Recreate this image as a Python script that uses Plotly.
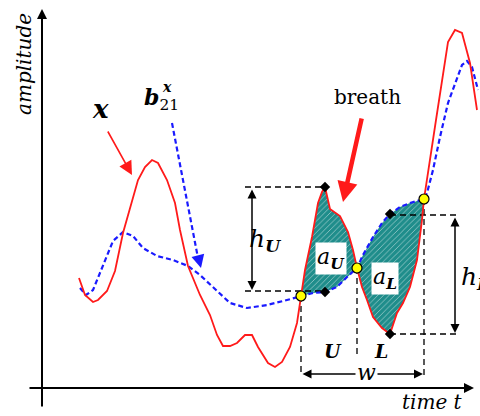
import plotly.graph_objects as go

# ---- data (pixel-like coordinates: x right, y down) ----
red_x = [79, 85, 93, 98, 107, 115, 123, 130, 138, 145, 152, 158, 167, 175, 180, 188, 200, 210, 217, 223,
         230, 237, 245, 252, 258, 268, 275, 282, 290, 297, 301, 305, 312, 318, 322, 325, 330, 340, 348, 353,
         357, 362, 367, 373, 382, 390, 397, 403, 410, 417, 422, 424, 436, 448, 455, 462, 470, 477]
red_y = [278, 295, 302, 300, 291, 271, 233, 207, 180, 167, 160, 163, 180, 203, 230, 266, 295, 315, 335, 346,
         346, 343, 335, 335, 347, 363, 367, 362, 347, 323, 296, 270, 237, 203, 192, 187, 209, 216, 232, 250,
         268, 287, 300, 317, 328, 334, 313, 303, 287, 260, 220, 199, 120, 42, 30, 33, 63, 110]

blue_x = [80, 86, 93, 103, 113, 123, 133, 143, 157, 173, 188, 200, 213, 230, 247, 267, 287, 301, 313, 325,
          337, 347, 357, 363, 373, 382, 390, 400, 410, 424, 427, 433, 440, 448, 455, 462, 467, 472, 478]
blue_y = [288, 295, 290, 265, 241, 232, 236, 248, 256, 260, 266, 275, 287, 303, 308, 305, 300, 296, 293, 292,
          287, 277, 268, 255, 237, 223, 214, 207, 203, 199, 193, 170, 137, 103, 83, 65, 61, 67, 90]

cross_x = [301, 357, 424]
cross_y = [296, 268, 199]
diamond_x = [325, 325, 390, 390]
diamond_y = [187, 292, 214, 334]
guide_left_x = 245
guide_right_x = 457
drop_bottom = [375, 358, 375]
w_level = 374

labels = {
    "amplitude": "<i>amplitude</i>",
    "time": "<i>time t</i>",
    "x": "<b><i>x</i></b>",
    "b": "<b><i>b</i></b><sub>21</sub>",
    "b_sup": "<b><i>x</i></b>",
    "breath": "breath",
    "hU": "<i>h</i><sub><b><i>U</i></b></sub>",
    "hL": "<i>h</i><sub><b><i>L</i></b></sub>",
    "aU": "<i>a</i><sub><b><i>U</i></b></sub>",
    "aL": "<i>a</i><sub><b><i>L</i></b></sub>",
    "U": "<b><i>U</i></b>",
    "L": "<b><i>L</i></b>",
    "w": "<i>w</i>",
}

FONT = "DejaVu Serif"
TEAL = "#1f8d8b"


def region(x0, x1):
    rx = [x for x in red_x if x0 <= x <= x1]
    ry = [y for x, y in zip(red_x, red_y) if x0 <= x <= x1]
    bx = [x for x in blue_x if x0 <= x <= x1][::-1]
    by = [y for x, y in zip(blue_x, blue_y) if x0 <= x <= x1][::-1]
    return rx + bx + [rx[0]], ry + by + [ry[0]]


fig = go.Figure()

for a, b in [(cross_x[0], cross_x[1]), (cross_x[1], cross_x[2])]:
    px, py = region(a, b)
    fig.add_trace(go.Scatter(x=px, y=py, mode="lines", fill="toself", line=dict(width=0),
                             fillcolor=TEAL,
                             fillpattern=dict(shape="/", fgcolor="white", size=4, solidity=0.22,
                                              fillmode="overlay"),
                             hoverinfo="skip"))

gx, gy = [], []
gx += [guide_left_x, diamond_x[0], None]; gy += [diamond_y[0], diamond_y[0], None]
gx += [guide_left_x, diamond_x[1], None]; gy += [diamond_y[1] - 1, diamond_y[1] - 1, None]
gx += [diamond_x[2], guide_right_x, None]; gy += [diamond_y[2] + 1, diamond_y[2] + 1, None]
gx += [diamond_x[3], guide_right_x, None]; gy += [diamond_y[3], diamond_y[3], None]
for cx, cy, bot in zip(cross_x, cross_y, drop_bottom):
    gx += [cx, cx, None]; gy += [cy, bot, None]
fig.add_trace(go.Scatter(x=gx, y=gy, mode="lines", line=dict(color="black", width=1.3, dash="6px,4px"),
                         hoverinfo="skip"))

fig.add_trace(go.Scatter(x=blue_x, y=blue_y, mode="lines",
                         line=dict(color="#1a1aff", width=2.2, dash="5px,3px"), hoverinfo="skip"))
fig.add_trace(go.Scatter(x=red_x, y=red_y, mode="lines",
                         line=dict(color="#ff1a1a", width=1.8), hoverinfo="skip"))

fig.add_trace(go.Scatter(x=[172, 198], y=[123, 258], mode="lines",
                         line=dict(color="#1a1aff", width=2.2, dash="5px,3px"), hoverinfo="skip"))

fig.add_trace(go.Scatter(x=diamond_x, y=diamond_y, mode="markers",
                         marker=dict(symbol="diamond", size=8, color="black"), hoverinfo="skip"))
fig.add_trace(go.Scatter(x=cross_x, y=cross_y, mode="markers",
                         marker=dict(symbol="circle", size=10, color="#ffff00",
                                     line=dict(color="black", width=1.2)), hoverinfo="skip"))

ann = []


def arrow(x, y, ax, ay, color="black", width=1.5, head=2, size=1.0, both=False):
    ann.append(dict(x=x, y=y, ax=ax, ay=ay, xref="x", yref="y", axref="x", ayref="y", text="",
                    showarrow=True, arrowhead=head, arrowsize=size, arrowwidth=width, arrowcolor=color,
                    startarrowhead=head, startarrowsize=size,
                    arrowside="end+start" if both else "end", standoff=0, startstandoff=0))


arrow(42, 9, 42, 408, width=2, head=2, size=1.0)
arrow(474, 388, 28, 388, width=2, head=2, size=1.0)
arrow(132, 175, 107, 130, color="#ff1a1a", width=1.6, head=2, size=1.7)
arrow(343, 202, 362, 117, color="#ff1a1a", width=4.5, head=2, size=0.9)
arrow(201, 268, 199, 260, color="#1a1aff", width=2, head=2, size=1.3)
arrow(252, 290, 252, 188, width=1.5, head=2, size=1.2, both=True)
arrow(455, 333, 455, 216, width=1.5, head=2, size=1.2, both=True)
arrow(423, w_level, 301, w_level, width=1.5, head=2, size=1.2, both=True)


def text(x, y, t, size, angle=0, bg=None):
    d = dict(x=x, y=y, xref="x", yref="y", text=t, showarrow=False,
             font=dict(family=FONT, size=size, color="black"), textangle=angle,
             xanchor="center", yanchor="middle")
    if bg:
        d.update(bgcolor=bg, borderpad=1)
    ann.append(d)


text(24, 64, labels["amplitude"], 20, angle=-90)
text(432, 402, labels["time"], 20)
text(100, 109, labels["x"], 26)
text(161, 99, labels["b"], 22)
text(167, 87, labels["b_sup"], 14)
text(367, 97, labels["breath"], 20)
text(265, 240, labels["hU"], 25)
text(475, 278, labels["hL"], 25)
text(331, 258, labels["aU"], 22, bg="white")
text(385, 278, labels["aL"], 22, bg="white")
text(333, 351, labels["U"], 19)
text(381, 351, labels["L"], 19)
text(366, 372, labels["w"], 22, bg="white")

fig.update_layout(
    width=480, height=416, margin=dict(l=0, r=0, t=0, b=0),
    paper_bgcolor="white", plot_bgcolor="white", showlegend=False,
    font=dict(family=FONT),
    xaxis=dict(range=[0, 480], visible=False, fixedrange=True),
    yaxis=dict(range=[416, 0], visible=False, fixedrange=True),
    annotations=ann,
)

fig.write_html("out.html")
